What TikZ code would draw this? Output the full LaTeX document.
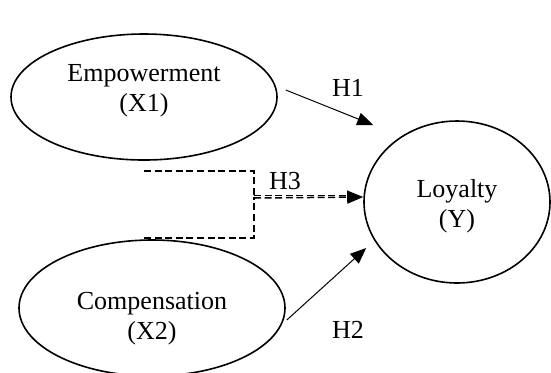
\documentclass[tikz,border=0pt]{standalone}
\usepackage{fontspec}
\setmainfont{Liberation Serif}
\usetikzlibrary{shapes.geometric,arrows.meta}

\begin{document}
\begin{tikzpicture}[x=0.5pt,y=-0.5pt,
    every node/.style={font=\fontsize{13}{15}\selectfont, align=center},
    construct/.style={ellipse, draw, line width=0.8pt, inner sep=0pt},
    hyp/.style={line width=0.5pt, -{Triangle[length=8pt,width=6.5pt]}},
    moderate/.style={line width=0.75pt, dash pattern=on 3.5pt off 1.8pt}]

\useasboundingbox (0,0) rectangle (551,372);

\node[construct, minimum width=133pt, minimum height=63pt] (emp) at (144,97) {};
\node[construct, minimum width=133pt, minimum height=68pt] (comp) at (152,308) {};
\node[construct, minimum width=93pt, minimum height=81pt] (loy) at (457,202) {};

\node (emptext) at ([shift={(0,-6)}]emp.center) {Empowerment\\(X1)};
\node (comptext) at ([shift={(0,11)}]comp.center) {Compensation\\(X2)};
\node (loytext) at ([shift={(0,4)}]loy.center) {Loyalty\\(Y)};

\coordinate (h3) at (254,197);

% direct effects
\draw[hyp] ([shift={(8,-7)}]emp.east) -- ([shift={(10,-77)}]loy.west);
\draw[hyp] ([shift={(1,12)}]comp.east) -- ([shift={(3,46)}]loy.west);

% moderating effect
\draw[moderate] ([shift={(0,10)}]emp.south) -| (h3);
\draw[moderate] ([shift={(-8,-1)}]comp.north) -| (h3);
\draw[moderate] ([shift={(0,-1.5)}]h3) -- ([shift={(-6,-6.5)}]loy.west);
\draw[moderate, -{Triangle[length=8pt,width=6.5pt]}] ([shift={(0,1)}]h3) -- ([shift={(0,-5)}]loy.west);

\node (h1lab) at (348,88) {H1};
\node (h2lab) at (348,330) {H2};
\node (h3lab) at (285,181) {H3};

\end{tikzpicture}
\end{document}
